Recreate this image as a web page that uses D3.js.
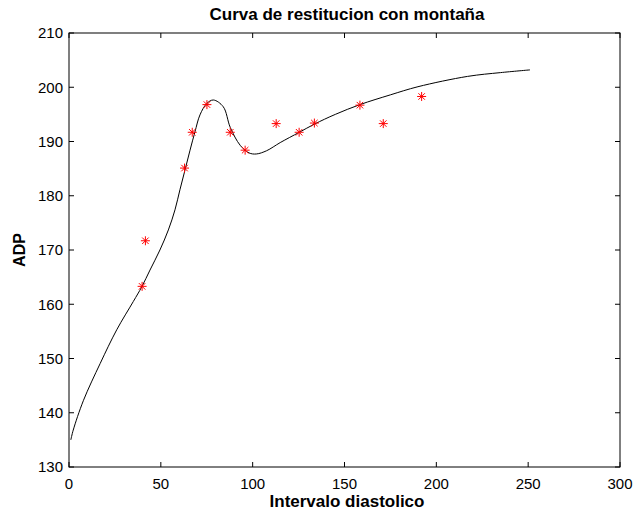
<!DOCTYPE html>
<html><head><meta charset="utf-8">
<script src="https://cdn.jsdelivr.net/npm/d3@7"></script>
<style>body{margin:0;background:#fff}svg{display:block}text{font-family:"Liberation Sans",Arial,sans-serif;fill:#000}</style>
</head><body><svg id="c" width="636" height="517"></svg>
<script>
const title = "Curva de restitucion con montaña";
const xLabel = "Intervalo diastolico";
const yLabel = "ADP";
const xTicks = [0, 50, 100, 150, 200, 250, 300];
const yTicks = [130, 140, 150, 160, 170, 180, 190, 200, 210];
// measured points (red asterisks)
const pointX = [39.8, 41.6, 62.9, 67.1, 75.1, 87.8, 95.9, 112.8, 125.3, 133.6, 158.4, 171.1, 192.0];
const pointY = [163.3, 171.7, 185.1, 191.7, 196.8, 191.7, 188.4, 193.3, 191.7, 193.4, 196.7, 193.3, 198.3];
// fitted curve
const curveX = [1, 2.3, 7.9, 17, 26, 35, 39.6, 44.1, 49.5, 54.1, 57.7, 60.4, 63.2, 65.9, 68.6, 71.3, 75, 78.6, 84, 87.8, 93.2, 98, 102, 107.6, 115, 125.4, 133.6, 145, 158.4, 175, 190, 217, 235, 251];
const curveY = [135, 136.8, 142.3, 149.1, 155.3, 160.5, 163.2, 166.3, 170, 173.7, 177.4, 181.1, 184.8, 188.4, 191.8, 194.9, 197, 197.65, 196.4, 192.6, 189.3, 187.9, 187.7, 188.3, 189.8, 191.7, 193.2, 195, 196.8, 198.6, 200.1, 202, 202.7, 203.2];

const svg = d3.select("#c");
const L = 69, R = 620, T = 33, B = 467;
const x = d3.scaleLinear().domain([0, 300]).range([L, R]);
const y = d3.scaleLinear().domain([130, 210]).range([B, T]);

const g = svg.append("g");
g.append("rect").attr("x", L).attr("y", T).attr("width", R - L).attr("height", B - T)
  .attr("fill", "none").attr("stroke", "#000").attr("stroke-width", 1);

const tk = 5;
const fs = "15px";
xTicks.forEach(v => {
  g.append("line").attr("x1", x(v)).attr("x2", x(v)).attr("y1", B).attr("y2", B - tk).attr("stroke", "#000");
  g.append("line").attr("x1", x(v)).attr("x2", x(v)).attr("y1", T).attr("y2", T + tk).attr("stroke", "#000");
  g.append("text").attr("x", x(v)).attr("y", B + 22).attr("text-anchor", "middle").style("font-size", fs).text(v);
});
yTicks.forEach(v => {
  g.append("line").attr("x1", L).attr("x2", L + tk).attr("y1", y(v)).attr("y2", y(v)).attr("stroke", "#000");
  g.append("line").attr("x1", R).attr("x2", R - tk).attr("y1", y(v)).attr("y2", y(v)).attr("stroke", "#000");
  g.append("text").attr("x", L - 6).attr("y", y(v) + 5.3).attr("text-anchor", "end").style("font-size", fs).text(v);
});

const line = d3.line().x(d => x(d[0])).y(d => y(d[1])).curve(d3.curveCatmullRom.alpha(0.5));
g.append("path").datum(curveX.map((v, i) => [v, curveY[i]]))
  .attr("d", line).attr("fill", "none").attr("stroke", "#000").attr("stroke-width", 1);

const s = 4.5, d2 = s * 0.72;
pointX.forEach((v, i) => {
  const cx = x(v), cy = y(pointY[i]);
  const gg = g.append("g").attr("stroke", "#ff0000").attr("stroke-width", 1);
  gg.append("line").attr("x1", cx - s).attr("x2", cx + s).attr("y1", cy).attr("y2", cy);
  gg.append("line").attr("x1", cx).attr("x2", cx).attr("y1", cy - s).attr("y2", cy + s);
  gg.append("line").attr("x1", cx - d2).attr("x2", cx + d2).attr("y1", cy - d2).attr("y2", cy + d2);
  gg.append("line").attr("x1", cx - d2).attr("x2", cx + d2).attr("y1", cy + d2).attr("y2", cy - d2);
});

svg.append("text").attr("x", 347).attr("y", 19.5).attr("text-anchor", "middle")
  .style("font-size", "17px").style("font-weight", "bold").text(title);
svg.append("text").attr("x", 347).attr("y", 507).attr("text-anchor", "middle")
  .style("font-size", "17px").style("font-weight", "bold").text(xLabel);
svg.append("text").attr("transform", `translate(24.5,250) rotate(-90)`).attr("text-anchor", "middle")
  .style("font-size", "16px").style("font-weight", "bold").text(yLabel);
</script></body></html>
